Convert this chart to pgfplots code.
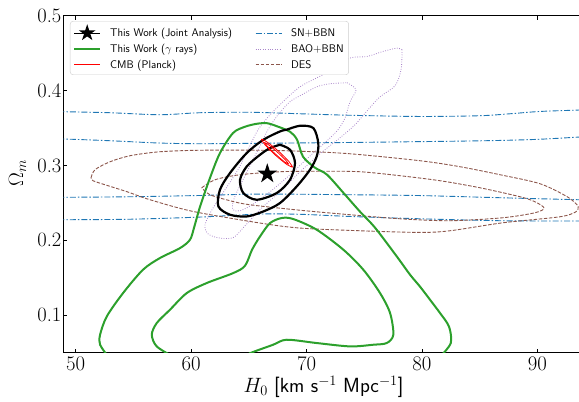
\documentclass[border=0pt]{standalone}
\usepackage{pgfplots}
\pgfplotsset{compat=1.18}
\definecolor{tabblue}{HTML}{1F77B4}
\definecolor{tabpurple}{HTML}{9467BD}
\definecolor{tabbrown}{HTML}{8C564B}
\definecolor{tabgreen}{HTML}{2CA02C}
\pgfdeclareplotmark{fstar}{%
 \pgfpathmoveto{\pgfpointpolar{90}{\pgfplotmarksize}}%
 \pgfpathlineto{\pgfpointpolar{126}{0.382\pgfplotmarksize}}%
 \pgfpathlineto{\pgfpointpolar{162}{\pgfplotmarksize}}%
 \pgfpathlineto{\pgfpointpolar{198}{0.382\pgfplotmarksize}}%
 \pgfpathlineto{\pgfpointpolar{234}{\pgfplotmarksize}}%
 \pgfpathlineto{\pgfpointpolar{270}{0.382\pgfplotmarksize}}%
 \pgfpathlineto{\pgfpointpolar{306}{\pgfplotmarksize}}%
 \pgfpathlineto{\pgfpointpolar{342}{0.382\pgfplotmarksize}}%
 \pgfpathlineto{\pgfpointpolar{18}{\pgfplotmarksize}}%
 \pgfpathlineto{\pgfpointpolar{54}{0.382\pgfplotmarksize}}%
 \pgfpathclose\pgfusepathqfill}
\tikzset{
 snstyle/.style={draw=tabblue, color=tabblue, line width=0.9pt, dash pattern=on 6pt off 2pt on 1.5pt off 2pt},
 baostyle/.style={draw=tabpurple!80, color=tabpurple!80, line width=0.8pt, dash pattern=on 0.8pt off 1.6pt},
 desstyle/.style={draw=tabbrown, color=tabbrown, line width=0.9pt, dash pattern=on 3.5pt off 1.6pt},
 gstyle/.style={draw=tabgreen, color=tabgreen, line width=2pt},
 jstyle/.style={draw=black, color=black, line width=2.2pt},
 cmbstyle/.style={draw=red, color=red, line width=0.8pt},
}
\begin{document}
\begin{tikzpicture}
\path[use as bounding box] (-63.5pt,-49.3pt) rectangle (515.5pt,352.7pt);
\begin{axis}[
  at={(0pt,0pt)}, anchor=south west,
  scale only axis, width=520pt, height=337.05pt,
  xmin=48.94, xmax=94, ymin=0.05, ymax=0.5,
  xtick={50,60,70,80,90}, ytick={0.1,0.2,0.3,0.4,0.5},
  yticklabels={0.1,0.2,0.3,0.4,0.5},
  tick align=inside, major tick length=4pt,
  every tick/.style={black, line width=0.8pt},
  axis line style={line width=0.8pt, black},
  tick label style={font=\fontsize{20.5}{24}\selectfont},
  xticklabel style={inner sep=0pt, yshift=-4.5pt},
  yticklabel style={inner sep=0pt, xshift=-2pt},
  xlabel={$H_0$ \textsf{[km s}$^{-1}$ \textsf{Mpc}$^{-1}$\textsf{]}},
  ylabel={$\Omega_m$},
  xlabel style={at={(axis description cs:0.5,-0.1009)}, anchor=center, font=\fontsize{20.5}{24}\selectfont},
  ylabel style={at={(axis description cs:-0.0885,0.533)}, anchor=center, font=\fontsize{20.5}{24}\selectfont},
  legend columns=2,
  legend cell align=left,
  legend image code/.code={\draw[#1] (0pt,0pt) -- (26pt,0pt);},
  legend style={at={(axis description cs:0.0125,0.9841)}, anchor=north west,
    draw=black!20, rounded corners=3pt, fill=white,
    font=\fontsize{11.1}{13}\selectfont\sffamily, inner sep=3pt, row sep=2pt,
    column sep=7pt, /tikz/every even column/.append style={column sep=21pt}},
]
\addlegendimage{legend image code/.code={\path (0pt,0pt) -- (26pt,0pt); \draw[black, fill=black, mark=fstar, mark size=8.8pt] plot coordinates {(13pt,0pt)};}}
\addlegendentry{This Work (Joint Analysis)}
\addlegendimage{legend image code/.code={\draw[snstyle] (0pt,0pt) -- (26pt,0pt);}}
\addlegendentry{SN+BBN}
\addlegendimage{legend image code/.code={\draw[gstyle] (0pt,0pt) -- (26pt,0pt);}}
\addlegendentry{This Work ($\gamma$ rays)}
\addlegendimage{legend image code/.code={\draw[baostyle] (0pt,0pt) -- (26pt,0pt);}}
\addlegendentry{BAO+BBN}
\addlegendimage{legend image code/.code={\draw[cmbstyle] (0pt,0pt) -- (26pt,0pt);}}
\addlegendentry{CMB (Planck)}
\addlegendimage{legend image code/.code={\draw[desstyle] (0pt,0pt) -- (26pt,0pt);}}
\addlegendentry{DES}

% SN+BBN
\addplot[snstyle, smooth, forget plot] coordinates {(47.5,0.3717) (48.99,0.3717) (52.97,0.3704) (57.30,0.3677) (60.77,0.3704) (65.10,0.3710) (69.44,0.3690) (73.77,0.3670) (79.84,0.3654) (85.03,0.3664) (87.63,0.3690) (90.23,0.3721) (93.61,0.3740) (95.5,0.3755)};
\addplot[snstyle, smooth, forget plot] coordinates {(47.5,0.3355) (48.99,0.3353) (52.97,0.3330) (57.30,0.3299) (60.77,0.3290) (65.97,0.3296) (73.77,0.3307) (82.43,0.3323) (86.77,0.3334) (90.23,0.3350) (93.61,0.3379) (95.5,0.3395)};
\addplot[snstyle, smooth, forget plot] coordinates {(47.5,0.2573) (48.99,0.2575) (54.71,0.2582) (60.77,0.2599) (65.97,0.2618) (73.77,0.2609) (79.84,0.2598) (86.77,0.2569) (93.61,0.2542) (95.5,0.2535)};
\addplot[snstyle, smooth, forget plot] coordinates {(47.5,0.2273) (48.99,0.2275) (54.71,0.2282) (60.77,0.2311) (65.97,0.2351) (69.44,0.2348) (73.77,0.2319) (79.84,0.2288) (86.77,0.2262) (93.61,0.2258) (95.5,0.2258)};

% BAO+BBN
\addplot[baostyle, smooth, forget plot] coordinates {(78.28,0.4545) (77.84,0.4567) (76.63,0.4522) (75.24,0.4455) (73.77,0.4434) (72.30,0.4278) (70.91,0.4171) (69.44,0.4051) (68.14,0.3877) (66.84,0.3677) (65.80,0.3477) (64.93,0.3210) (64.06,0.2943) (62.94,0.2676) (61.81,0.2409) (61.20,0.2208) (61.46,0.2088) (62.33,0.2035) (63.63,0.2035) (64.67,0.2195) (66.14,0.2435) (67.70,0.2649) (69.44,0.2916) (71.17,0.3156) (72.90,0.3370) (74.20,0.3543) (75.33,0.3744) (76.37,0.3917) (77.67,0.4064) (78.19,0.4278) (78.28,0.4545)};
\addplot[baostyle, smooth, forget plot] coordinates {(73.51,0.4104) (74.29,0.4011) (73.77,0.3851) (73.34,0.3637) (72.73,0.3477) (71.69,0.3317) (70.13,0.3103) (68.57,0.2876) (66.84,0.2649) (65.28,0.2475) (64.24,0.2395) (63.63,0.2409) (63.63,0.2515) (64.06,0.2676) (64.93,0.2943) (65.80,0.3210) (66.66,0.3477) (67.53,0.3677) (68.57,0.3851) (69.44,0.3931) (70.91,0.4051) (72.04,0.4091) (73.51,0.4104)};

% DES
\addplot[desstyle, smooth, forget plot] coordinates {(51.33,0.2836) (51.67,0.2943) (52.97,0.3049) (54.71,0.3130) (57.30,0.3183) (60.77,0.3203) (65.97,0.3203) (69.44,0.3190) (73.77,0.3156) (79.84,0.3063) (83.30,0.2983) (86.77,0.2876) (90.23,0.2756) (92.55,0.2586) (93.44,0.2475) (93.53,0.2435) (93.35,0.2382) (91.97,0.2315) (87.03,0.2235) (82.43,0.2128) (79.84,0.2106) (74.64,0.2128) (69.44,0.2164) (65.97,0.2231) (60.16,0.2386) (56.44,0.2542) (54.45,0.2649) (52.54,0.2742) (51.50,0.2796) (51.33,0.2836)};
\addplot[desstyle, smooth, forget plot] coordinates {(60.92,0.2702) (62.07,0.2809) (64.24,0.2876) (67.70,0.2916) (71.17,0.2923) (74.64,0.2916) (78.10,0.2863) (81.57,0.2796) (85.03,0.2702) (88.50,0.2582) (89.80,0.2515) (90.58,0.2431) (89.80,0.2369) (87.03,0.2302) (82.43,0.2262) (78.10,0.2288) (73.77,0.2342) (69.44,0.2402) (65.10,0.2475) (63.37,0.2529) (61.64,0.2609) (60.92,0.2702)};

% gamma rays
\addplot[gstyle, smooth, forget plot] coordinates {(52.80,0.045) (52.11,0.0606) (52.11,0.0740) (52.69,0.0984) (54.10,0.1296) (55.83,0.1608) (57.30,0.1764) (59.04,0.1897) (59.90,0.2008) (60.25,0.2168) (60.77,0.2449) (61.64,0.2836) (62.50,0.3166) (63.63,0.3433) (64.67,0.3517) (65.71,0.3557) (66.58,0.3564) (67.44,0.3523) (68.57,0.3450) (69.18,0.3343) (69.70,0.3116) (70.74,0.2969) (71.78,0.2876) (73.34,0.2609) (74.64,0.2382) (75.94,0.2168) (77.84,0.1781) (78.97,0.1541) (79.84,0.1381) (80.70,0.1207) (81.57,0.1029) (82.35,0.0847) (82.50,0.0629) (81.60,0.045)};
\addplot[gstyle, smooth, forget plot] coordinates {(58.40,0.045) (57.02,0.0584) (56.59,0.0740) (57.02,0.0896) (58.17,0.1074) (59.62,0.1296) (61.35,0.1430) (63.66,0.1564) (64.67,0.1661) (65.28,0.1875) (65.97,0.2052) (66.84,0.2231) (67.85,0.2298) (68.86,0.2284) (70.88,0.2142) (73.19,0.1875) (74.92,0.1608) (76.37,0.1296) (77.24,0.1029) (77.52,0.0740) (76.95,0.0629) (75.76,0.0606) (73.77,0.0584) (70.88,0.0629) (68.28,0.0673) (67.10,0.0606) (65.10,0.0493) (64.80,0.045)};

% joint analysis
\addplot[jstyle, smooth, forget plot] coordinates {(68.28,0.3477) (69.44,0.3530) (70.59,0.3499) (71.02,0.3299) (70.88,0.3120) (70.30,0.2943) (69.15,0.2720) (67.70,0.2498) (66.26,0.2386) (64.82,0.2319) (63.37,0.2342) (62.36,0.2453) (62.50,0.2676) (63.37,0.2899) (64.82,0.3166) (66.26,0.3343) (67.70,0.3454) (68.28,0.3477)};
\addplot[jstyle, smooth, forget plot] coordinates {(67.70,0.3276) (68.57,0.3210) (69.00,0.3032) (68.57,0.2809) (67.42,0.2632) (65.68,0.2542) (64.52,0.2632) (64.24,0.2809) (64.82,0.2987) (65.97,0.3143) (66.84,0.3232) (67.70,0.3276)};

% CMB
\addplot[cmbstyle, smooth, forget plot] coordinates {(68.79,0.2976) (68.29,0.3013) (67.30,0.3138) (66.39,0.3278) (66.10,0.3350) (66.59,0.3312) (67.59,0.3188) (68.50,0.3048) (68.79,0.2976)};
\addplot[cmbstyle, smooth, forget plot] coordinates {(68.46,0.3015) (68.09,0.3048) (67.34,0.3147) (66.62,0.3252) (66.38,0.3304) (66.74,0.3272) (67.50,0.3174) (68.21,0.3067) (68.46,0.3015)};

\addplot[only marks, mark=fstar, mark size=10.5pt, black, forget plot] coordinates {(66.60,0.2889)};
\end{axis}
\end{tikzpicture}
\end{document}
